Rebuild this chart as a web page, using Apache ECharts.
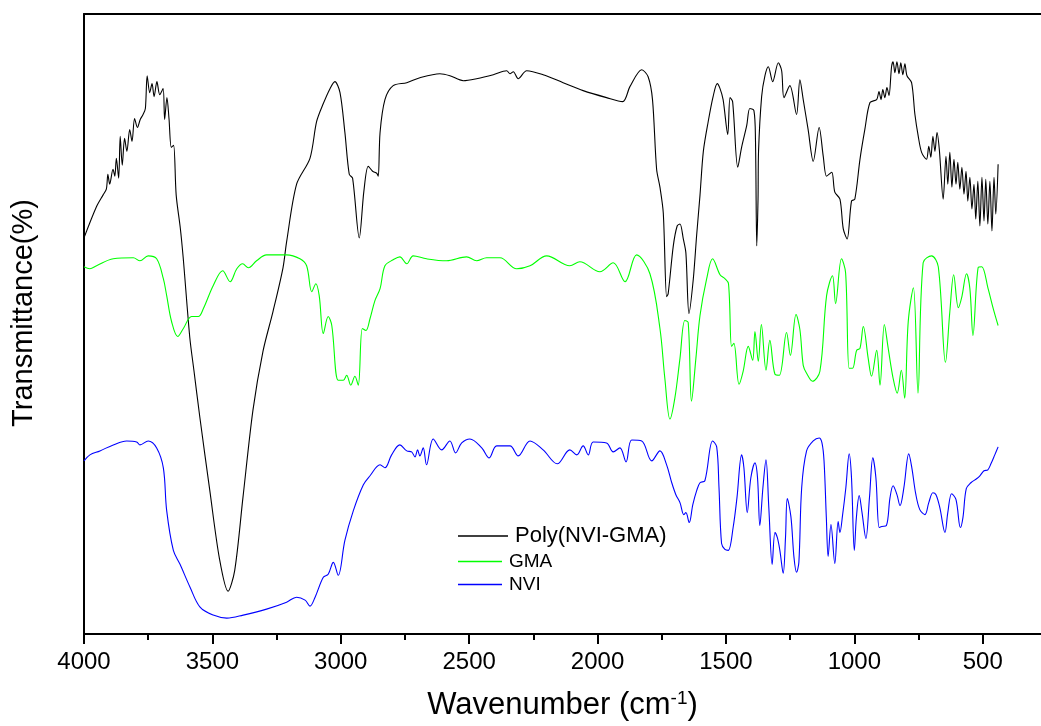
<!DOCTYPE html>
<html><head><meta charset="utf-8">
<script src="https://cdn.jsdelivr.net/npm/echarts@6/dist/echarts.min.js"></script>
<style>html,body{margin:0;padding:0;background:#fff}#c{width:1041px;height:726px}</style>
</head><body><div id="c"></div>
<script>
const majorTicks = [4000,3500,3000,2500,2000,1500,1000,500];
const minorTicks = [3750,3250,2750,2250,1750,1250,750];
const seriesNames = ['Poly(NVI-GMA)','GMA','NVI'];

const polyX = [4000,3952,3926,3913,3907,3900,3887,3880,3874,3865,3859,3851,3842,3833,3822,3813,3803,3792,3781,3770,3761,3754,3744,3735,3727,3716,3705,3692,3686,3677,3669,3660,3651,3641,3625,3614,3588,3572,3549,3510,3472,3439,3413,3381,3342,3303,3264,3225,3211,3172,3120,3094,3068,3042,3023,3003,2984,2967,2954,2928,2910,2893,2876,2860,2854,2847,2828,2796,2743,2692,2614,2575,2523,2471,2406,2354,2341,2328,2309,2276,2212,2134,2056,1965,1902,1874,1828,1803,1786,1770,1757,1744,1731,1725,1705,1690,1679,1666,1656,1644,1627,1614,1601,1588,1569,1550,1534,1523,1511,1493,1484,1474,1454,1439,1419,1407,1391,1385,1380,1375,1373,1361,1348,1335,1318,1296,1283,1274,1251,1225,1212,1199,1180,1160,1137,1121,1108,1088,1076,1056,1043,1028,1011,998,978,959,939,913,904,896,889,881,873,865,855,849,842,834,826,819,811,803,795,777,764,751,738,719,710,702,694,686,678,669,654,643,636,628,620,612,604,597,589,581,573,565,558,550,542,534,527,519,511,503,495,488,480,472,464,456,449,440];
const polyY = [39.8,42.9,44.1,44.7,46.2,45.2,46.7,46.0,47.8,45.8,50.0,47.1,49.8,48.5,50.7,49.5,51.8,50.9,51.7,52.2,52.8,56.1,54.4,55.3,54.0,55.5,54.2,54.8,51.7,53.9,51.8,48.9,49.1,44.1,40.8,37.9,29.8,26.5,21.8,14.4,7.5,4.3,6.4,13.7,22.5,28.4,32.4,36.8,39.4,45.2,47.8,51.5,53.3,54.8,55.5,54.4,50.4,46.2,45.8,39.8,44.5,47.0,46.5,46.3,46.0,50.4,53.7,55.1,55.4,55.9,56.3,56.1,55.6,55.8,56.2,56.6,56.3,56.5,55.8,56.6,56.2,55.4,54.6,53.9,53.5,55.0,56.7,56.0,53.7,46.7,44.9,42.3,33.9,34.2,39.0,41.0,41.2,39.7,38.3,32.2,35.7,40.1,44.1,48.5,51.5,54.0,55.3,54.8,53.7,50.2,53.9,53.5,46.9,48.9,51.1,52.8,52.6,49.7,39.0,43.7,48.5,54.0,56.1,57.0,55.5,57.4,56.6,53.9,55.1,52.2,55.7,53.7,50.7,47.5,50.9,48.0,46.0,46.4,44.4,43.7,40.7,39.7,43.5,43.7,47.7,50.7,53.4,53.7,54.5,53.7,54.7,53.9,54.9,54.1,57.0,57.5,56.4,57.5,56.3,57.4,56.2,57.3,56.1,55.4,52.2,50.0,48.4,47.7,49.0,47.9,50.0,48.5,50.4,48.7,43.7,48.0,45.2,48.4,44.9,47.7,45.2,47.4,44.7,46.9,44.2,46.5,43.5,45.9,42.7,45.2,41.7,45.5,41.0,45.9,41.5,45.7,41.2,45.5,40.5,45.9,42.2,47.2];

const gmaX = [4000,3977,3951,3886,3808,3782,3750,3717,3691,3678,3659,3635,3613,3581,3555,3535,3497,3460,3431,3405,3382,3360,3328,3289,3211,3159,3133,3113,3097,3084,3068,3049,3035,3010,2990,2977,2961,2945,2932,2916,2902,2886,2867,2847,2828,2796,2770,2743,2718,2666,2588,2510,2471,2432,2380,2315,2263,2198,2108,2069,1991,1939,1893,1848,1796,1757,1738,1718,1699,1679,1660,1647,1634,1617,1601,1575,1552,1523,1504,1490,1478,1469,1449,1433,1413,1396,1387,1374,1362,1344,1329,1309,1292,1264,1249,1227,1212,1199,1186,1163,1134,1108,1085,1073,1050,1034,1020,1007,991,978,965,946,933,913,900,883,868,849,833,817,804,790,770,752,732,699,673,645,628,613,595,582,563,550,538,518,504,479,459,440];
const gmaY = [36.9,36.7,37.0,37.7,37.8,37.5,38.0,37.7,35.7,34.0,31.4,29.9,30.7,31.9,31.9,32.7,35.0,36.5,35.4,36.7,37.2,36.8,37.5,38.1,38.1,37.7,37.0,34.4,35.2,34.0,30.2,31.9,31.0,25.5,25.5,26.0,25.0,25.9,25.0,30.7,30.5,31.7,33.5,34.7,37.0,37.6,37.9,37.2,38.0,37.7,37.5,37.9,37.5,37.8,37.8,36.7,37.0,38.0,37.0,37.4,36.4,37.3,35.4,38.1,36.2,30.7,25.7,21.6,23.7,27.7,31.5,31.3,23.4,27.7,32.0,35.7,37.7,36.1,35.7,35.2,28.9,29.2,25.1,26.4,28.9,27.5,30.4,27.4,31.1,26.5,29.5,26.1,26.0,30.3,28.0,32.1,30.6,27.0,26.2,25.4,26.4,34.0,36.0,33.2,37.7,36.3,26.7,26.7,28.5,28.7,30.9,27.7,25.9,28.5,25.0,31.1,28.7,25.7,24.2,26.5,23.7,31.4,34.8,24.2,37.3,38.0,36.9,27.3,32.4,36.1,32.8,33.8,36.2,34.7,30.0,36.8,36.9,34.7,32.7,31.0];

const nviX = [4000,3977,3938,3886,3834,3795,3782,3750,3717,3691,3678,3652,3626,3587,3548,3497,3444,3380,3289,3211,3172,3139,3120,3100,3068,3049,3029,3010,2984,2951,2912,2886,2847,2828,2802,2770,2743,2724,2711,2701,2692,2679,2666,2640,2607,2575,2553,2529,2497,2451,2422,2393,2341,2309,2263,2212,2157,2108,2081,2056,2036,2017,1965,1939,1913,1889,1867,1828,1789,1757,1731,1711,1695,1679,1664,1656,1643,1629,1614,1601,1582,1552,1536,1527,1517,1504,1491,1472,1457,1439,1430,1417,1403,1387,1377,1368,1356,1344,1333,1320,1309,1300,1290,1277,1268,1261,1247,1235,1225,1216,1205,1186,1160,1137,1126,1118,1109,1102,1091,1076,1063,1056,1046,1033,1020,1011,1000,992,981,970,955,941,928,916,903,893,875,861,849,834,822,807,788,776,761,745,725,710,694,682,667,647,636,621,604,587,577,564,546,524,511,495,480,468,453,440];
const nviY = [17.4,18.0,18.4,19.0,19.4,19.3,19.0,19.4,18.7,16.7,12.4,8.4,7.0,4.7,2.7,1.9,1.6,1.9,2.5,3.2,3.7,3.4,2.8,3.7,5.7,6.0,7.2,5.9,9.4,12.4,15.0,15.9,17.0,16.7,18.0,19.0,18.4,18.3,17.8,18.5,17.9,18.7,17.0,19.6,18.5,19.4,18.2,19.2,19.6,18.7,17.7,18.9,18.9,17.9,19.4,18.5,17.1,18.5,18.0,18.9,18.0,19.3,19.2,18.3,18.7,17.3,19.5,19.4,17.4,18.4,17.0,15.2,14.0,13.2,12.0,12.2,11.2,13.0,14.4,15.2,15.4,19.4,18.8,14.7,9.1,8.5,8.4,10.7,13.7,18.0,16.7,12.2,15.7,17.2,15.7,10.9,14.7,17.5,12.7,7.0,10.2,9.7,8.4,6.1,9.7,13.6,11.8,7.7,6.2,7.2,14.7,18.4,19.4,19.7,19.2,17.4,11.7,7.8,11.0,7.1,11.3,10.2,11.9,14.7,18.1,15.7,8.4,11.7,13.9,12.2,9.6,13.7,17.7,15.7,10.7,10.8,10.9,13.7,14.9,14.0,12.9,14.7,18.1,16.7,14.1,12.5,12.0,13.2,14.2,14.0,12.7,10.2,12.2,14.1,13.5,10.7,11.7,14.6,15.2,15.6,15.9,16.4,16.5,17.1,18.0,18.8];

const FONT = '"Liberation Sans", Arial, sans-serif';
const zip = (xs, ys) => xs.map((x, i) => [x, ys[i]]);

const chart = echarts.init(document.getElementById('c'), null, {renderer: 'canvas'});
const xBase = {type: 'value', inverse: true, min: 273, max: 4000, splitLine: {show: false}};
const blackLine = {show: true, onZero: false, lineStyle: {color: '#000', width: 2}};

function legendFor(i, top, width, size) {
  return {data: [{name: seriesNames[i], icon: 'rect'}], left: 458, top: top, padding: 0,
    itemWidth: width, itemHeight: 1.5, selectedMode: false,
    textStyle: {fontSize: size, fontFamily: FONT, color: '#000', padding: [0, 0, 0, 2]}};
}

const option = {
  animation: false,
  backgroundColor: '#fff',
  grid: {left: 84, right: 0, top: 14, bottom: 89, containLabel: false},
  xAxis: [
    Object.assign({}, xBase, {
      position: 'bottom',
      axisLine: blackLine,
      axisTick: {show: true, customValues: majorTicks, length: 10, lineStyle: {color: '#000', width: 2}},
      axisLabel: {show: true, customValues: majorTicks, formatter: v => String(v), color: '#000', fontSize: 24, fontFamily: FONT, margin: 16},
      name: 'Wavenumber (cm{sup|-1})',
      nameLocation: 'middle',
      nameGap: 55,
      nameTextStyle: {fontSize: 31, fontFamily: FONT, color: '#000',
        rich: {sup: {fontSize: 19, fontFamily: FONT, color: '#000', verticalAlign: 'top', padding: [0, 0, 14, 0]}}}
    }),
    Object.assign({}, xBase, {
      position: 'bottom',
      axisLine: {show: false, onZero: false},
      axisTick: {show: true, customValues: minorTicks, length: 6, lineStyle: {color: '#000', width: 2}},
      axisLabel: {show: false}
    }),
    Object.assign({}, xBase, {
      position: 'top',
      axisLine: blackLine,
      axisTick: {show: false},
      axisLabel: {show: false}
    })
  ],
  yAxis: {
    type: 'value', min: 0, max: 62.3,
    axisLine: blackLine,
    axisTick: {show: false}, axisLabel: {show: false}, splitLine: {show: false},
    name: 'Transmittance(%)', nameLocation: 'middle', nameGap: 46,
    nameTextStyle: {fontSize: 29, fontFamily: FONT, color: '#000', padding: [0, 0, 0, 22]}
  },
  legend: [
    legendFor(0, 525, 50, 22),
    legendFor(1, 552, 44, 19),
    legendFor(2, 575, 44, 19)
  ],
  series: [
    {name: seriesNames[0], type: 'line', xAxisIndex: 0, data: zip(polyX, polyY), showSymbol: false, symbol: 'none',
      smooth: 0.3, lineStyle: {color: '#000000', width: 1.1}, itemStyle: {color: '#000000'}},
    {name: seriesNames[1], type: 'line', xAxisIndex: 0, data: zip(gmaX, gmaY), showSymbol: false, symbol: 'none',
      smooth: 0.35, lineStyle: {color: '#00ff00', width: 1.1}, itemStyle: {color: '#00ff00'}},
    {name: seriesNames[2], type: 'line', xAxisIndex: 0, data: zip(nviX, nviY), showSymbol: false, symbol: 'none',
      smooth: 0.35, lineStyle: {color: '#0000ff', width: 1.1}, itemStyle: {color: '#0000ff'}}
  ]
};
chart.setOption(option);
</script>
</body></html>
